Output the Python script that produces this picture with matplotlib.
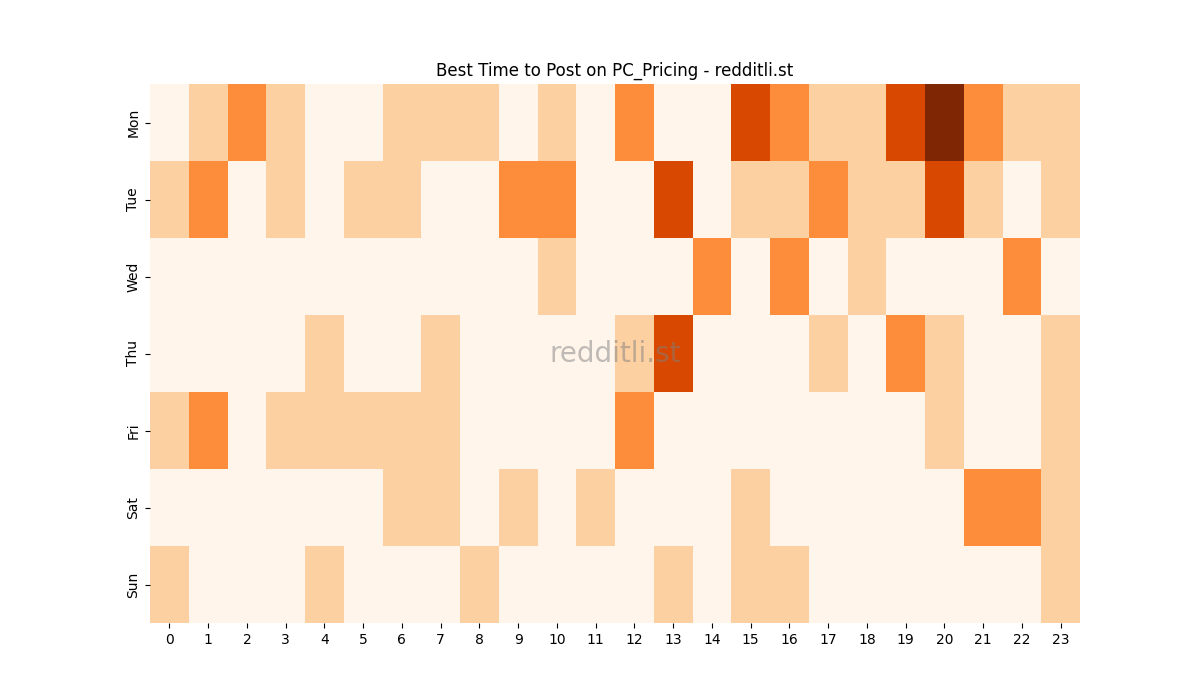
#!/usr/bin/env python3
# -*- coding: utf-8 -*-
import numpy as np
import matplotlib
matplotlib.use("Agg")
import matplotlib.pyplot as plt
import seaborn as sns

# rows = weekdays, cols = hour of day, value = post activity level
days = ["Mon", "Tue", "Wed", "Thu", "Fri", "Sat", "Sun"]
hours = list(range(24))
mon = [0, 1, 2, 1, 0, 0, 1, 1, 1, 0, 1, 0, 2, 0, 0, 3, 2, 1, 1, 3, 4, 2, 1, 1]
tue = [1, 2, 0, 1, 0, 1, 1, 0, 0, 2, 2, 0, 0, 3, 0, 1, 1, 2, 1, 1, 3, 1, 0, 1]
wed = [0, 0, 0, 0, 0, 0, 0, 0, 0, 0, 1, 0, 0, 0, 2, 0, 2, 0, 1, 0, 0, 0, 2, 0]
thu = [0, 0, 0, 0, 1, 0, 0, 1, 0, 0, 0, 0, 1, 3, 0, 0, 0, 1, 0, 2, 1, 0, 0, 1]
fri = [1, 2, 0, 1, 1, 1, 1, 1, 0, 0, 0, 0, 2, 0, 0, 0, 0, 0, 0, 0, 1, 0, 0, 1]
sat = [0, 0, 0, 0, 0, 0, 1, 1, 0, 1, 0, 1, 0, 0, 0, 1, 0, 0, 0, 0, 0, 2, 2, 1]
sun = [1, 0, 0, 0, 1, 0, 0, 0, 1, 0, 0, 0, 0, 1, 0, 1, 1, 0, 0, 0, 0, 0, 0, 1]

grid = np.array([mon, tue, wed, thu, fri, sat, sun])

fig, ax = plt.subplots(figsize=(12, 7), dpi=100)
sns.heatmap(grid, cmap="Oranges", vmin=0, vmax=4, cbar=False,
            xticklabels=hours, yticklabels=days, ax=ax)
ax.set_title("Best Time to Post on PC_Pricing - redditli.st")
ax.text(0.5, 0.5, "redditli.st", transform=ax.transAxes,
        ha="center", va="center", fontsize=20, color="gray", alpha=0.5)
fig.savefig("out.png")
